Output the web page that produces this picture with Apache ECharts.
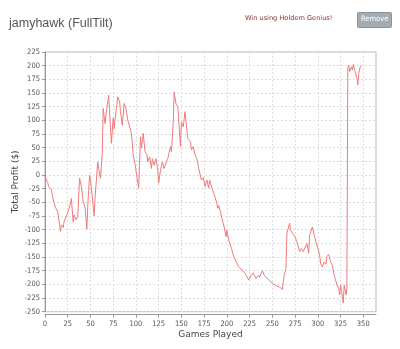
<!DOCTYPE html>
<html><head><meta charset="utf-8">
<script src="https://cdn.jsdelivr.net/npm/echarts@6/dist/echarts.min.js"></script>
<style>html,body{margin:0;padding:0;background:#fff}#c{width:400px;height:349px}</style>
</head><body><div id="c"></div>
<script>
const games = [0,3,4,7,8,10,12,14,17,18,20,21,23,26,28,29,31,32,34,36,38,40,42,44,46,47,49,50,52,54,55,57,58,59,61,63,64,66,68,70,71,73,75,76,78,80,82,83,85,87,89,91,93,95,97,99,101,103,105,106,108,110,112,113,115,117,118,120,122,124,125,127,129,131,133,135,137,138,139,141,142,144,146,147,149,150,152,154,157,160,161,163,165,167,169,170,172,174,176,178,180,181,183,184,187,189,190,191,193,194,197,199,200,202,205,207,210,213,217,220,222,224,227,229,230,232,235,236,239,241,242,246,248,251,255,258,261,263,265,266,267,269,270,272,275,277,280,282,284,286,288,290,291,294,296,297,299,302,303,305,307,309,310,312,314,316,318,320,321,323,324,325,327,328,329,331,332,333,334,335,337,338,339,341,343,344,345,347];
const profit = [-2,-14,-21,-26,-37,-52,-61,-67,-103,-91,-96,-85,-88,-64,-52,-43,-86,-73,-82,-76,-6,-21,-49,-58,-99,-58,0,-9,-40,-75,-43,-40,24,12,-6,40,122,94,122,146,149,58,104,85,116,143,134,116,91,131,122,101,102,76,37,21,-3,-24,70,49,76,43,37,24,33,12,30,18,30,9,-15,9,24,12,21,30,27,52,43,94,152,131,125,128,52,97,88,116,67,61,46,52,37,30,12,15,-9,-5,-21,-9,-24,-9,-9,-26,-40,-52,-61,-56,-67,-76,-95,-113,-101,-119,-134,-146,-158,-168,-174,-180,-186,-192,-183,-179,-183,-189,-183,-187,-175,-183,-185,-192,-195,-199,-203,-205,-209,-183,-171,-107,-110,-88,-101,-104,-113,-122,-140,-134,-140,-143,-125,-143,-110,-95,-110,-113,-128,-146,-161,-168,-159,-163,-149,-145,-159,-165,-183,-186,-201,-207,-219,-201,-222,-234,-201,-219,-207,195,201,189,198,192,202,189,177,165,186,200];
const titleText = "jamyhawk (FullTilt)";
const promoText = "Win using Holdem Genius!";
const buttonText = "Remove";
const xName = "Games Played";
const yName = "Total Profit ($)";

const chart = echarts.init(document.getElementById('c'), null, {renderer:'canvas'});
const data = games.map((g,i)=>[g,profit[i]]);
const lbl = {fontSize:7.5, color:'#555', fontFamily:'DejaVu Sans Condensed'};
chart.setOption({
  animation:false,
  title:{text:titleText, left:4, top:12, textStyle:{fontSize:12.5, fontWeight:'normal', color:'#555', fontFamily:'Liberation Sans'}},
  graphic:[
    {type:'text', left:245, top:15, style:{text:promoText, fill:'#8b3030', font:'6.6px DejaVu Sans'}},
    {type:'rect', left:357, top:12, shape:{width:34, height:15, r:1}, style:{fill:'#a3abb3', stroke:'#8a929a', lineWidth:1}},
    {type:'text', left:361, top:15.5, style:{text:buttonText, fill:'#fff', font:'7.5px DejaVu Sans Condensed'}}
  ],
  grid:{left:45, right:24, top:52, bottom:37.3, outerBoundsMode:'none', containLabel:false, show:true, borderColor:'#b8b8b8', borderWidth:1},
  xAxis:{type:'value', min:0, max:364, interval:25, offset:3,
    name:xName, nameLocation:'middle', nameGap:15, nameMoveOverlap:false, nameTextStyle:{fontSize:9, color:'#444', fontFamily:'DejaVu Sans'},
    axisLine:{show:true, onZero:false, lineStyle:{color:'#999'}}, axisTick:{show:true, length:3, lineStyle:{color:'#999'}},
    axisLabel:Object.assign({margin:5, showMaxLabel:false}, lbl),
    splitLine:{show:true, lineStyle:{color:'#ddd', type:[2,2]}}},
  yAxis:{type:'value', min:-250, max:225, interval:25,
    name:yName, nameLocation:'middle', nameGap:25, nameMoveOverlap:false, nameTextStyle:{fontSize:9, color:'#444', fontFamily:'DejaVu Sans'},
    axisLine:{show:true, onZero:false, lineStyle:{color:'#999'}}, axisTick:{show:true, length:3, lineStyle:{color:'#999'}},
    axisLabel:Object.assign({margin:5}, lbl),
    splitLine:{show:true, lineStyle:{color:'#ddd', type:[2,2]}}},
  series:[{type:'line', data:data, showSymbol:false, symbol:'none', lineStyle:{color:'#f07a7a', width:1}}]
});
</script></body></html>
